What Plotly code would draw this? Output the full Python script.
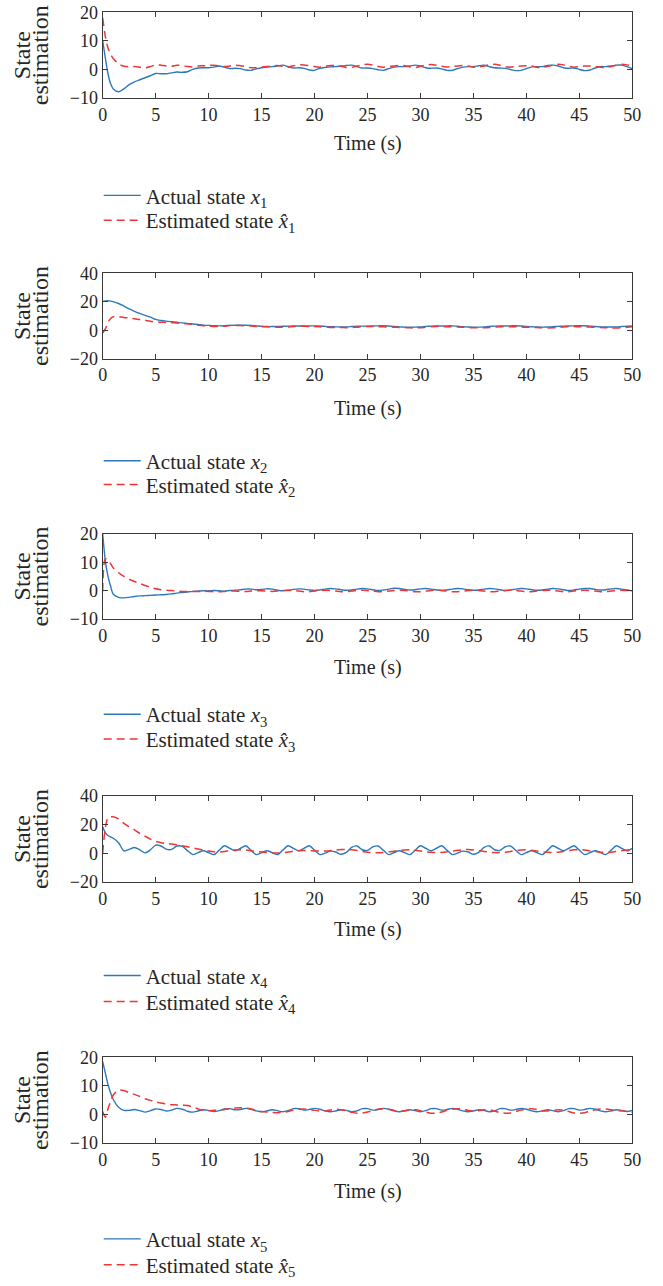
import plotly.graph_objects as go

W, H = 663, 1286

# sample times (s): 0, .25, .5, .75, then every 0.5 s from 1 to 50
t = [0, 0.25, 0.5, 0.75,
     1, 1.5, 2, 2.5, 3, 3.5, 4, 4.5, 5, 5.5,
     6, 6.5, 7, 7.5, 8, 8.5, 9, 9.5, 10, 10.5,
     11, 11.5, 12, 12.5, 13, 13.5, 14, 14.5, 15, 15.5,
     16, 16.5, 17, 17.5, 18, 18.5, 19, 19.5, 20, 20.5,
     21, 21.5, 22, 22.5, 23, 23.5, 24, 24.5, 25, 25.5,
     26, 26.5, 27, 27.5, 28, 28.5, 29, 29.5, 30, 30.5,
     31, 31.5, 32, 32.5, 33, 33.5, 34, 34.5, 35, 35.5,
     36, 36.5, 37, 37.5, 38, 38.5, 39, 39.5, 40, 40.5,
     41, 41.5, 42, 42.5, 43, 43.5, 44, 44.5, 45, 45.5,
     46, 46.5, 47, 47.5, 48, 48.5, 49, 49.5, 50]

x1 = [10, 4, -1.5, -5,
      -6.8, -7.8, -6.8, -5.3, -4.3, -3.6, -2.9, -2.2, -1.4, -1.5,
      -1.5, -1.2, -0.9, -1, -0.8, 0, 0.5, 0.6, 0.6, 0.8,
      1.2, 0.8, 0.3, 0.4, 0.3, -0.2, -0.3, 0.2, 0.6, 0.8,
      1, 1.2, 1.5, 1, 0.5, 0.6, 0.4, -0.2, -0.3, 0.4,
      0.7, 0.9, 1, 1.2, 1.4, 1.5, 1, 0.5, 0.5, 0.3,
      -0.1, -0.3, 0.3, 0.8, 1, 1, 1.2, 1.5, 1.2, 0.6,
      0.4, 0.5, 0.2, -0.3, -0.3, 0.3, 0.8, 1, 1, 1.3,
      1.5, 1, 0.6, 0.5, 0.4, 0, -0.4, -0.3, 0.3, 0.9,
      1, 1, 1.4, 1.5, 1.2, 0.6, 0.4, 0.5, 0, -0.4,
      -0.2, 0.5, 1, 1, 1.2, 1.5, 1.5, 1, 0.3]
x1_hat = [18, 11.5, 7.5, 5.3,
          3.8, 2, 1.1, 0.9, 1, 0.8, 0.6, 1, 1.6, 1.5,
          1.2, 1.1, 1.5, 1.3, 1, 0.9, 1.2, 1.3, 1.4, 1.5,
          1.3, 1, 1.2, 1.5, 1.3, 1, 0.6, 0.6, 0.9, 1,
          1.2, 1.4, 1.1, 0.8, 1.3, 1.6, 1.6, 1.3, 1, 0.8,
          1.1, 1.4, 1.3, 1.1, 0.7, 0.7, 1.2, 1.6, 1.8, 1.5,
          1, 0.8, 1, 1.2, 1.4, 1.3, 0.9, 0.7, 1.1, 1.5,
          1.7, 1.5, 1.1, 0.9, 1, 1.2, 1.4, 1.2, 0.8, 0.8,
          1.2, 1.6, 1.8, 1.5, 1, 0.8, 1, 1.2, 1.3, 1.2,
          0.8, 0.7, 1, 1.5, 1.8, 1.6, 1.1, 0.8, 1, 1.2,
          1.2, 1.1, 0.8, 0.7, 1, 1.5, 1.8, 1.6, 1.2]

x2 = [20.2, 20.5, 20.7, 20.5,
      20, 18.8, 17, 15, 13.3, 11.8, 10.5, 9.2, 7.6, 6.9,
      6.4, 6, 5.6, 5.2, 4.8, 4.4, 4, 3.6, 3.4, 3.2,
      3.1, 3.2, 3.4, 3.5, 3.5, 3.5, 3.4, 3.1, 2.8, 2.6,
      2.6, 2.7, 2.8, 2.9, 3, 3, 3, 3, 3.1, 3,
      2.7, 2.5, 2.4, 2.3, 2.4, 2.6, 2.8, 2.9, 2.9, 3,
      3.1, 3.2, 3, 2.6, 2.4, 2.2, 2.1, 2.2, 2.4, 2.7,
      2.9, 3, 3, 3.1, 3.1, 2.8, 2.5, 2.3, 2.2, 2.2,
      2.4, 2.7, 2.9, 3, 3, 3.1, 3.2, 3, 2.7, 2.5,
      2.3, 2.2, 2.3, 2.5, 2.7, 2.9, 3, 3.1, 3.2, 3.2,
      2.9, 2.6, 2.4, 2.3, 2.3, 2.4, 2.6, 2.8, 3]
x2_hat = [-1.9, 1, 5.5, 8.3,
          9.5, 9.6, 9, 8.6, 8.1, 7.5, 7, 6.4, 6, 5.7,
          5.5, 5.3, 5.1, 4.8, 4.5, 4, 3.5, 3.1, 2.9, 2.7,
          2.6, 2.9, 3.3, 3.4, 3.3, 3.2, 3, 2.7, 2.5, 2.4,
          2.3, 2.2, 2.1, 2.3, 2.6, 2.8, 2.8, 2.7, 2.6, 2.4,
          2.2, 2, 1.9, 1.9, 1.8, 1.9, 2.2, 2.5, 2.7, 2.6,
          2.5, 2.4, 2.3, 2.2, 2, 1.9, 1.7, 1.6, 1.8, 2.1,
          2.4, 2.6, 2.6, 2.5, 2.4, 2.3, 2.1, 1.9, 1.8, 1.7,
          1.7, 1.9, 2.2, 2.5, 2.6, 2.5, 2.4, 2.3, 2.1, 2,
          1.9, 1.7, 1.6, 1.7, 2, 2.3, 2.5, 2.6, 2.5, 2.4,
          2.3, 2.1, 1.9, 1.8, 1.7, 1.6, 1.8, 2.1, 2.4]

x3 = [20, 10.5, 5, 1.5,
      -1.3, -2.4, -2.6, -2.4, -2.1, -1.9, -1.8, -1.7, -1.6, -1.5,
      -1.4, -1.2, -0.9, -0.7, -0.5, -0.3, -0.2, -0.1, -0.1, 0,
      -0.1, -0.2, 0, 0.1, 0.3, 0.5, 0.5, 0.3, 0.4, 0.6,
      0.5, 0.1, -0.1, 0.1, 0.4, 0.6, 0.5, 0.2, 0, 0.2,
      0.5, 0.7, 0.6, 0.3, 0.1, 0.2, 0.5, 0.7, 0.6, 0.3,
      0, 0.2, 0.5, 0.8, 0.7, 0.4, 0.2, 0.3, 0.6, 0.7,
      0.5, 0.2, 0, 0.2, 0.5, 0.7, 0.6, 0.3, 0.1, 0.2,
      0.5, 0.7, 0.6, 0.3, 0, 0.2, 0.5, 0.7, 0.6, 0.3,
      0.1, 0.2, 0.5, 0.7, 0.6, 0.3, 0, 0.2, 0.5, 0.7,
      0.7, 0.4, 0.2, 0.3, 0.6, 0.7, 0.5, 0.2, -0.1]
x3_hat = [-0.3, 11.2, 10.9, 9.5,
          8, 6.3, 5, 4, 3.2, 2.5, 1.8, 1.2, 0.6, 0.3,
          0.1, 0, -0.2, -0.3, -0.3, -0.3, -0.3, -0.3, -0.3, -0.4,
          -0.4, -0.3, -0.2, -0.2, -0.3, -0.3, -0.2, -0.1, -0.1, -0.2,
          -0.3, -0.2, 0, 0.1, 0, -0.2, -0.4, -0.4, -0.2, 0,
          0.1, 0, -0.2, -0.4, -0.4, -0.2, 0, 0.1, 0, -0.2,
          -0.4, -0.4, -0.2, 0, 0.1, 0, -0.2, -0.4, -0.4, -0.2,
          0, 0.1, 0, -0.2, -0.4, -0.4, -0.2, 0, 0.1, 0,
          -0.2, -0.4, -0.4, -0.2, 0, 0.1, 0, -0.2, -0.4, -0.4,
          -0.2, 0, 0.1, 0, -0.2, -0.4, -0.4, -0.2, 0, 0.1,
          0, -0.2, -0.4, -0.4, -0.2, 0, 0.1, 0, -0.2]

x4 = [18.5, 14.5, 12.5, 11.5,
      10.6, 7.5, 1.8, 2.8, 4.2, 2.5, 0.4, 2.5, 5.8, 5.2,
      3, 2.8, 5.2, 5, 2, -0.8, 0.6, 1.9, 0.6, -0.8,
      2.3, 5.4, 3.6, 1.9, 3.6, 5.4, 2.3, -0.8, 0.6, 1.9,
      0.6, -0.8, 2.3, 5.4, 3.6, 1.9, 3.6, 5.4, 2.3, -0.8,
      0.2, 1.6, 1, -0.6, 0.7, 4.2, 5.2, 2.6, 2.1, 4.6,
      5.2, 2.2, -0.8, 0.6, 1.9, 0.6, -0.8, 2.3, 5.4, 3.6,
      1.9, 3.6, 5.4, 2.3, -0.8, 0.2, 1.6, 1, -0.6, 0.7,
      4.2, 5.2, 2.6, 2.1, 4.6, 5.2, 2.2, -0.8, 0.6, 1.9,
      0.6, -0.8, 2.3, 5.4, 3.6, 1.9, 3.6, 5.4, 2.3, -0.8,
      0.6, 1.9, 0.6, -0.8, 2.3, 5.4, 3.6, 1.9, 3.6]
x4_hat = [0.3, 18, 24.8, 25.6,
          25.5, 24, 21, 18.5, 16.5, 14, 12, 10, 8.4, 7.5,
          7, 6.6, 6.1, 5.3, 4.6, 3.8, 3.1, 2.4, 1.7, 1.2,
          1, 1.3, 1.9, 2.4, 2.6, 2.4, 1.9, 1.3, 1, 0.7,
          0.4, 0.3, 0.5, 1, 1.5, 1.9, 2.1, 2, 1.8, 1.7,
          1.7, 2, 2.4, 2.7, 2.8, 2.5, 2, 1.4, 0.9, 0.6,
          0.5, 0.7, 1.1, 1.6, 2.1, 2.4, 2.5, 2.2, 1.7, 1.2,
          0.8, 0.6, 0.7, 1.1, 1.6, 2.2, 2.6, 2.7, 2.4, 1.9,
          1.4, 0.9, 0.6, 0.6, 0.9, 1.4, 2, 2.4, 2.5, 2.2,
          1.7, 1.2, 0.8, 0.7, 0.9, 1.4, 2, 2.5, 2.6, 2.4,
          1.9, 1.3, 0.9, 0.7, 0.9, 1.4, 2, 2.4, 2.2]

x5 = [18.5, 14.5, 10.5, 7.5,
      5.2, 2.5, 1.4, 1.4, 1.7, 1.3, 0.8, 1.3, 1.9, 1.7,
      1.2, 1.5, 2.1, 1.8, 1.1, 0.8, 1.2, 1.6, 1.4, 1,
      1.3, 1.9, 2, 1.6, 1.7, 2.1, 1.8, 1.2, 0.9, 1.2,
      1.6, 1.3, 0.9, 1.3, 2, 2, 1.5, 1.7, 2.1, 1.8,
      1.2, 0.9, 1.2, 1.6, 1.4, 0.9, 1.2, 2, 2, 1.5,
      1.7, 2.1, 1.8, 1.2, 0.9, 1.2, 1.6, 1.3, 0.9, 1.3,
      2, 2, 1.5, 1.7, 2.1, 1.8, 1.2, 0.9, 1.2, 1.6,
      1.4, 0.9, 1.2, 2, 2, 1.5, 1.7, 2.1, 1.8, 1.2,
      0.9, 1.2, 1.6, 1.3, 0.9, 1.3, 2, 2, 1.5, 1.7,
      2.1, 1.8, 1.2, 0.9, 1.2, 1.6, 1.4, 1, 1.4]
x5_hat = [1, -1, 2, 4.5,
          6.8, 8.5, 8.4, 7.6, 7, 6.3, 5.5, 4.9, 4.4, 4,
          3.6, 3.4, 3.3, 3.2, 3.1, 2.6, 1.9, 1.4, 1.3, 1.4,
          1.5, 1.7, 2, 2.2, 2.3, 2.2, 1.9, 1.4, 1, 0.8,
          0.7, 0.6, 0.7, 1, 1.5, 1.8, 1.9, 1.7, 1.4, 1.2,
          1.2, 1.5, 1.8, 1.6, 1.2, 0.7, 0.4, 0.5, 0.8, 1.3,
          1.8, 2, 1.8, 1.4, 1.2, 1.3, 1.6, 1.6, 1.3, 0.8,
          0.4, 0.4, 0.8, 1.4, 1.8, 2, 1.8, 1.4, 1.2, 1.3,
          1.6, 1.6, 1.2, 0.6, 0.4, 0.5, 1, 1.5, 1.9, 2,
          1.7, 1.3, 1.2, 1.4, 1.6, 1.5, 1, 0.5, 0.4, 0.6,
          1.1, 1.6, 1.9, 1.9, 1.6, 1.3, 1.2, 1.1, 0.8]

actual = [x1, x2, x3, x4, x5]
estimated = [x1_hat, x2_hat, x3_hat, x4_hat, x5_hat]
y_ranges = [[-10, 20], [-20, 40], [-10, 20], [-20, 40], [-10, 20]]
y_dticks = [10, 20, 10, 20, 10]

# layout positions in pixels
frames = [(12.3, 98.7), (275, 361), (537.3, 622.7), (801, 887.7), (1064, 1150)]
xtitle_y = [144, 411, 672, 935, 1199]
legend_y = [(197, 222), (464, 488), (719, 744), (982, 1008), (1247, 1273)]
x_left, x_right = 102.7, 632.3

FONT = "Liberation Serif, Times New Roman, serif"
TXT = "#262626"
AX = "#3a3a3a"
BLUE = "#2d78bd"
RED = "#ee3636"

fig = go.Figure()
layout = dict(
    width=W, height=H,
    margin=dict(l=0, r=0, t=0, b=0),
    paper_bgcolor="white", plot_bgcolor="white",
    font=dict(family=FONT, size=18, color=TXT),
    showlegend=True,
)
annotations = []

for i in range(5):
    k = i + 1
    sfx = "" if k == 1 else str(k)
    leg_a = "legend" if k == 1 else f"legend{2 * k - 1}"
    leg_e = f"legend{2 * k}"
    fig.add_trace(go.Scatter(
        x=t, y=actual[i], mode="lines", name=f"Actual state <i>x</i><sub>{k}</sub>",
        line=dict(color=BLUE, width=1.4, shape="spline", smoothing=0.8),
        xaxis="x" + sfx, yaxis="y" + sfx, legend=leg_a))
    fig.add_trace(go.Scatter(
        x=t, y=estimated[i], mode="lines", name=f"Estimated state <i>x̂</i><sub>{k}</sub>",
        line=dict(color=RED, width=1.5, dash="8px,5px", shape="spline", smoothing=0.8),
        xaxis="x" + sfx, yaxis="y" + sfx, legend=leg_e))

    top, bot = frames[i]
    axis_common = dict(showline=True, linecolor=AX, linewidth=1.2, mirror="ticks",
                       ticks="inside", ticklen=5, tickcolor=AX, tickwidth=1.2,
                       showgrid=False, zeroline=False, automargin=False,
                       tickfont=dict(family=FONT, size=18, color=TXT))
    layout["xaxis" + sfx] = dict(
        axis_common, domain=[x_left / W, x_right / W], anchor="y" + sfx,
        range=[0, 50], dtick=5, tick0=0)
    layout["yaxis" + sfx] = dict(
        axis_common, domain=[1 - bot / H, 1 - top / H], anchor="x" + sfx,
        range=y_ranges[i], dtick=y_dticks[i], tick0=0)

    # axis titles
    annotations.append(dict(
        text="Time (s)", xref="paper", yref="paper",
        x=(x_left + x_right) / 2 / W, y=1 - xtitle_y[i] / H,
        xanchor="center", yanchor="middle", showarrow=False,
        font=dict(family=FONT, size=20, color=TXT)))
    for word, xc in (("State", 22), ("estimation", 40)):
        annotations.append(dict(
            text=word, xref="paper", yref="paper",
            x=xc / W, y=1 - (top + bot) / 2 / H, textangle=-90,
            xanchor="center", yanchor="middle", showarrow=False,
            font=dict(family=FONT, size=24, color=TXT)))

    for leg, yc in zip((leg_a, leg_e), legend_y[i]):
        layout[leg] = dict(
            x=(x_left - 4) / W, y=1 - yc / H, xanchor="left", yanchor="middle",
            bgcolor="rgba(0,0,0,0)", itemwidth=37,
            font=dict(family=FONT, size=21, color=TXT))

layout["annotations"] = annotations
fig.update_layout(**layout)

# drop the browser's default 8px body margin so the figure sits at the page corner
fig.write_html("out.html", config={"displayModeBar": False},
               post_script="document.body.style.margin = '0';")
